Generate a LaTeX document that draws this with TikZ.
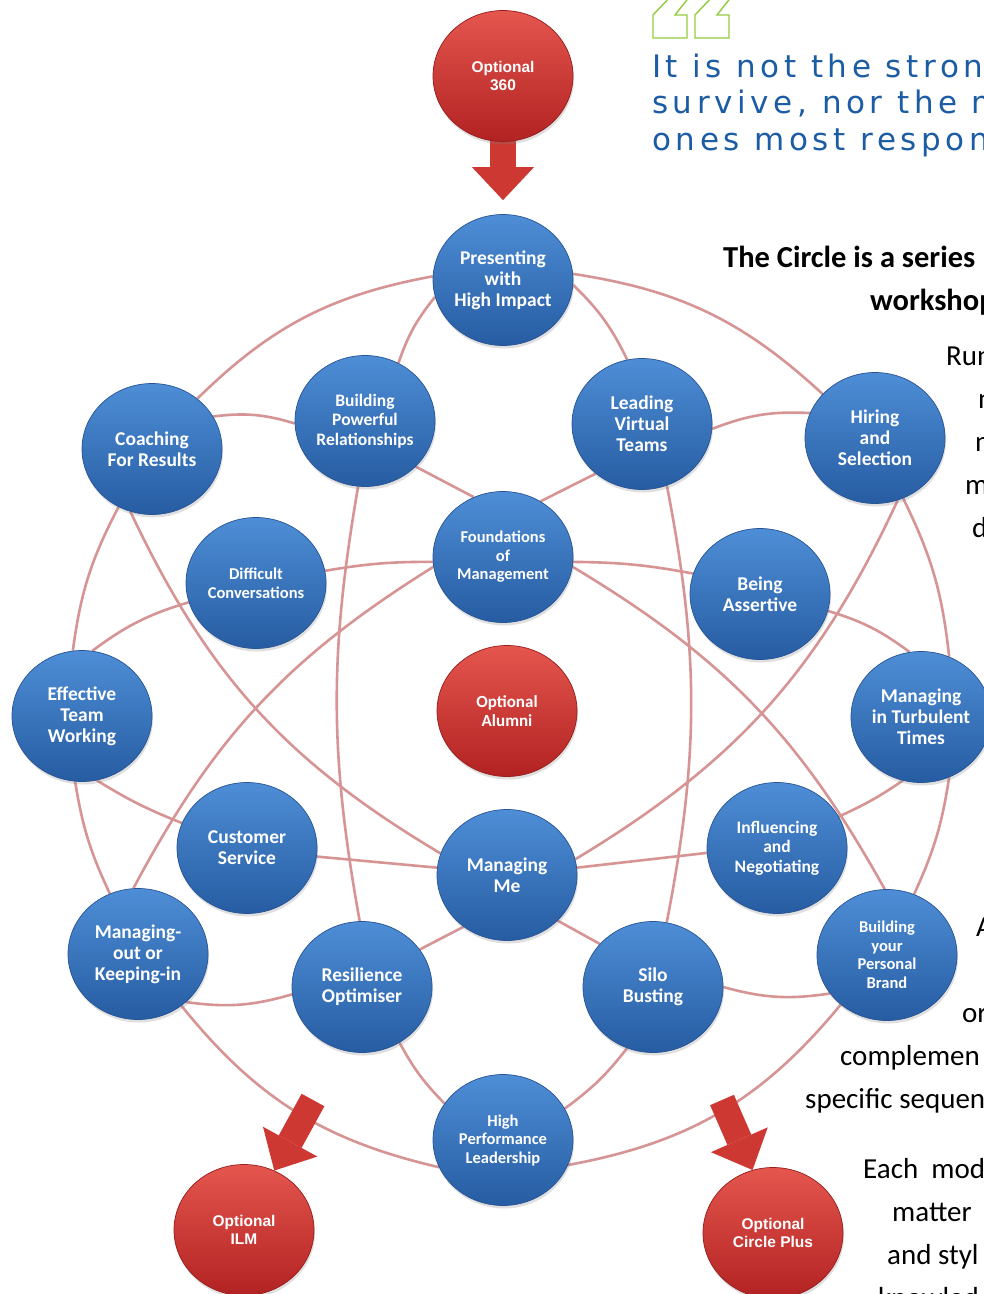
\documentclass[tikz,border=0pt]{standalone}
\usepackage{fontspec}
\setmainfont{Carlito}
\newfontfamily\arialfont{Liberation Sans}
\newfontfamily\quotefont{DejaVu Sans}[LetterSpace=15]
\usepackage{tikz}
\usetikzlibrary{shapes.geometric, arrows.meta, shadows}
\pgfdeclarelayer{background}
\pgfsetlayers{background,main}
\definecolor{balltop}{RGB}{78,142,214}
\definecolor{ballbot}{RGB}{38,92,162}
\definecolor{balledge}{RGB}{40,84,148}
\definecolor{opttop}{RGB}{228,86,78}
\definecolor{optbot}{RGB}{178,34,34}
\definecolor{optedge}{RGB}{150,30,30}
\definecolor{arrowred}{RGB}{206,56,50}
\definecolor{linkred}{RGB}{214,148,148}
\definecolor{quoteblue}{RGB}{28,92,164}
\definecolor{quotegreen}{RGB}{146,204,64}
\newcommand\modbig{\bfseries\fontsize{19.5}{21}\selectfont}
\newcommand\modmid{\bfseries\fontsize{17.5}{19.5}\selectfont}
\newcommand\modsmall{\bfseries\fontsize{16.5}{18.5}\selectfont}
\newcommand\optfont{\arialfont\bfseries\fontsize{15.5}{18.5}\selectfont}
\newcommand\bodyfont{\fontsize{29}{35}\selectfont}
\tikzstyle{module} =
[ellipse, minimum width = 140pt, minimum height = 131pt, inner sep = -12pt,
align = center, text = white, font = \modbig, draw = balledge, line width = 0.7pt,
top color = balltop, bottom color = ballbot,
drop shadow = {opacity = 0.25, shadow xshift = 1pt, shadow yshift = -3pt}]
\tikzstyle{midmodule} = [module, font = \modmid]
\tikzstyle{smallmodule} = [module, font = \modsmall]
\tikzstyle{optional} =
[module, draw = optedge, top color = opttop, bottom color = optbot, font = \optfont]
\tikzstyle{link} = [draw = linkred, line width = 2.6pt]
\tikzstyle{blockarrow} =
[draw = arrowred, line width = 26pt,
-{Triangle[length = 33pt, width = 62pt, line width = 0pt]}]
\tikzstyle{quotetext} =
[anchor = base west, inner sep = 0pt, text = quoteblue,
font = \quotefont\fontsize{31}{37}\selectfont]
\tikzstyle{bodytext} = [anchor = base west, inner sep = 0pt, font = \bodyfont]
\tikzstyle{titletext} =
[anchor = base west, inner sep = 0pt, font = \bfseries\fontsize{30.5}{36}\selectfont]
\tikzstyle{quotemark} = [draw = quotegreen, line width = 1.4pt, line join = miter]

\begin{document}
\begin{tikzpicture}[x = 1pt, y = -1pt]
  \useasboundingbox (0,0) rectangle (984,1294);
  \clip (0,0) rectangle (984,1294);
  % optional modules
  \node [optional] (opt360) at (503,76) {Optional\\360};
  \node [optional, font = \bfseries\fontsize{17}{18.5}\selectfont] (alumni)
   at (507,711) {Optional\\Alumni};
  \node [optional] (ilm) at (244,1230) {Optional\\ILM};
  \node [optional] (cplus) at (773,1233) {Optional\\Circle Plus};
  % outer ring nodes
  \node [module, below of=opt360, node distance=204pt] (pres)
   {Presenting\\with\\High Impact};
  \node [module] (hire) at (875,438) {Hiring\\and\\Selection};
  \node [module] (turb) at (921,717) {Managing\\in Turbulent\\Times};
  \node [smallmodule] (brand) at (887,955) {Building\\your\\Personal\\Brand};
  \node [smallmodule] (hpl) at (503,1140) {High\\Performance\\Leadership};
  \node [module] (mok) at (138,954) {Managing-\\out or\\Keeping-in};
  \node [module] (etw) at (82,716) {Effective\\Team\\Working};
  \node [module] (coach) at (152,449) {Coaching\\For Results};
  % inner nodes
  \node [midmodule] (build) at (365,421) {Building\\Powerful\\Relationships};
  \node [module] (lead) at (642,424) {Leading\\Virtual\\Teams};
  \node [smallmodule, below of=pres, node distance=277pt] (found)
   {Foundations\\of\\Management};
  \node [smallmodule] (diff) at (256,583) {Difficult\\Conversations};
  \node [module] (assert) at (760,594) {Being\\Assertive};
  \node [module] (cust) at (247,848) {Customer\\Service};
  \node [module, below of=alumni, node distance=164pt] (me) {Managing\\Me};
  \node [midmodule] (infl) at (777,848) {Influencing\\and\\Negotiating};
  \node [module] (resil) at (362,987) {Resilience\\Optimiser};
  \node [module] (silo) at (653,987) {Silo\\Busting};
  % arrow tails on the ring
  \coordinate (ilmtail) at (313,1100);
  \coordinate (plustail) at (722,1100);
  %
  \begin{pgfonlayer}{background}
  \fill [white] (0,0) rectangle (984,1294);
  % outer ring edges
  \path [link] (pres.5) to [bend left=17] (hire.140);
  \path [link] (hire.295) to [bend left=10] (turb.65);
  \path [link] (turb.295) to [bend left=8] (brand.66);
  \path [link] (brand.227) to [bend left=20] (hpl.339);
  \path [link] (hpl.203) to [bend left=19] (mok.310);
  \path [link] (mok.115) to [bend left=8] (etw.264);
  \path [link] (etw.98) to [bend left=10] (coach.240);
  \path [link] (coach.48) to [bend left=17] (pres.177);
  % inner edges
  \path [link] (pres.194) to [bend right=10] (build.60);
  \path [link] (pres.356) to [bend left=10] (lead.103);
  \path [link] (coach.28) to [bend left=12] (build.182);
  \path [link] (lead.356) to [bend left=12] (hire.159);
  \path [link] (build.318) -- (found.116);
  \path [link] (lead.227) -- (found.56);
  \path [link] (diff.10) to [bend left=5] (found.184);
  \path [link] (found.356) to [bend left=5] (assert.163);
  \path [link] (diff.196) to [bend right=10] (etw.81);
  \path [link] (assert.346) to [bend left=10] (turb.100);
  \path [link] (etw.283) to [bend right=5] (cust.159);
  \path [link] (turb.254) to [bend left=5] (infl.27);
  \path [link] (cust.353) -- (me.174);
  \path [link] (me.6) -- (infl.184);
  \path [link] (mok.315) to [bend right=12] (resil.186);
  \path [link] (silo.0) to [bend right=12] (brand.214);
  \path [link] (me.230) -- (resil.33);
  \path [link] (me.318) -- (silo.141);
  \path [link] (resil.304) to [bend right=8] (hpl.148);
  \path [link] (silo.247) to [bend left=8] (hpl.27);
  % long edges
  \path [link] (coach.251) to [bend right=17] (me.162);
  \path [link] (hire.290) to [bend left=17] (me.13);
  \path [link] (found.188) to [bend right=15] (mok.94);
  \path [link] (found.352) to [bend left=15] (brand.92);
  \path [link] (build.264) to [bend right=10] (resil.92);
  \path [link] (lead.292) to [bend left=11] (silo.78);
  % block arrows
  \path [blockarrow, shorten >=14pt] (opt360.center) -- (pres.north);
  \path [blockarrow] (ilmtail) -- (ilm.63);
  \path [blockarrow] (plustail) -- (cplus.108);
  \end{pgfonlayer}
  %
  % quote
  \foreach \dx in {0,42}
   \draw [quotemark, xshift=\dx pt] (653,38) -- (687,38) -- (687,15) -- (675,15)
    -- (690,-4) -- (671,-4) -- (653,15) -- cycle;
  \node [quotetext] (quote1) at (652,77) {It is not the stron};
  \node [quotetext] (quote2) at (652,113) {survive, nor the m};
  \node [quotetext] (quote3) at (652,150) {ones most respon};
  % side text
  \node [titletext] (title1) at (723,267) {The Circle is a series};
  \node [titletext] (title2) at (870,310) {workshop};
  \node [bodytext] (side1) at (946,365) {Run};
  \node [bodytext] (side2) at (978,408) {n};
  \node [bodytext] (side3) at (975,451) {n};
  \node [bodytext] (side4) at (965,494) {m};
  \node [bodytext] (side5) at (972,537) {d};
  \node [bodytext] (side6) at (976,936) {A};
  \node [bodytext] (side7) at (962,1022) {or};
  \node [bodytext] (side8) at (840,1065) {complemen};
  \node [bodytext] (side9) at (805,1108) {specific sequen};
  \node [bodytext] (side10) at (863,1178) {Each~~mod};
  \node [bodytext] (side11) at (892,1221) {matter};
  \node [bodytext] (side12) at (887,1264) {and styl};
  \node [bodytext] (side13) at (878,1307) {knowled};
\end{tikzpicture}
\end{document}
